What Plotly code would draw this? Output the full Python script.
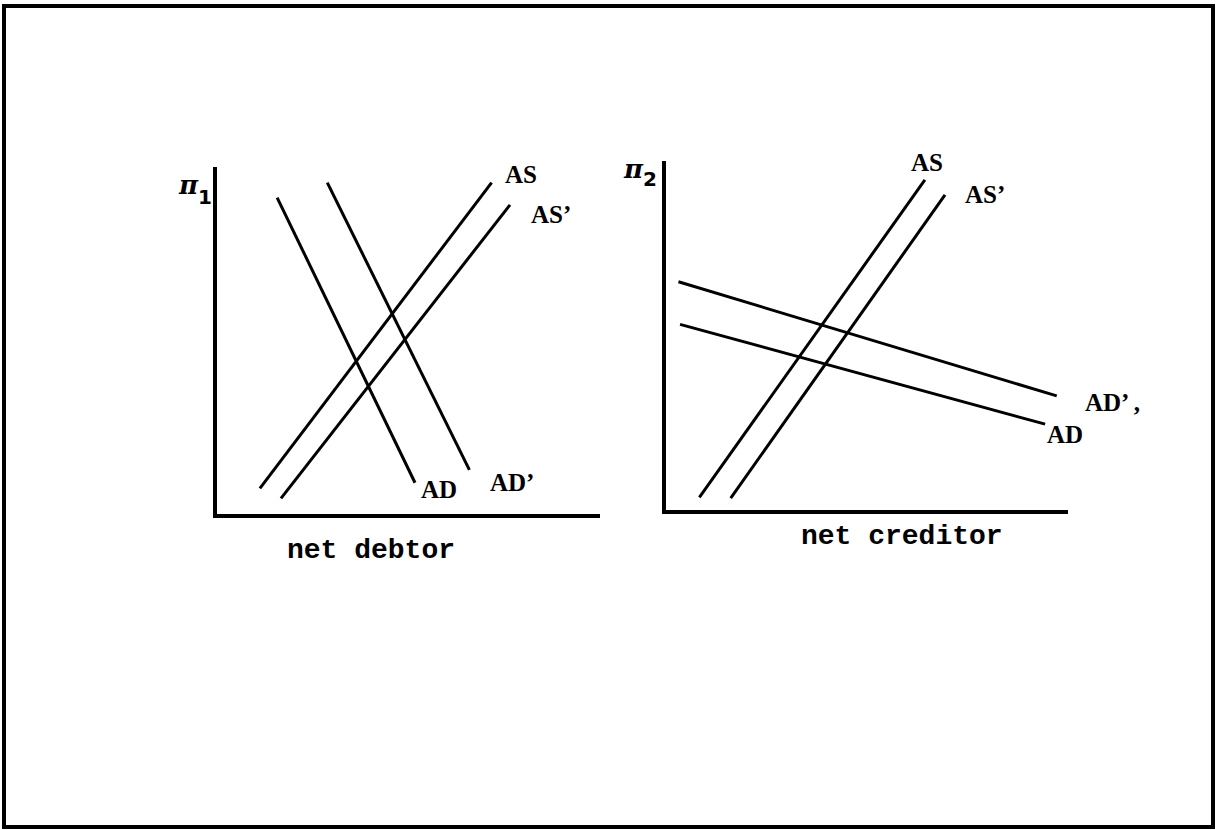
import plotly.graph_objects as go

W, H = 1217, 830

# ---- data (arbitrary units, 0-10 on each axis) ----
left_AD_x = [1.57, 5.17]
left_AD_y = [9.12, 0.90]
left_ADp_x = [2.88, 6.59]
left_ADp_y = [9.55, 1.27]
left_AS_x = [1.12, 7.17]
left_AS_y = [0.74, 9.55]
left_ASp_x = [1.67, 7.65]
left_ASp_y = [0.45, 8.91]

right_AS_x = [0.83, 6.44]
right_AS_y = [0.36, 9.46]
right_ASp_x = [1.61, 6.94]
right_ASp_y = [0.34, 9.03]
right_ADp_x = [0.31, 9.72]
right_ADp_y = [6.54, 3.27]
right_AD_x = [0.35, 9.43]
right_AD_y = [5.32, 2.46]

left_labels = ["AS", "AS’", "AD", "AD’"]
left_label_x = [7.94, 8.72, 5.80, 7.70]
left_label_y = [9.77, 8.62, 0.72, 0.92]
right_labels = ["AS", "AS’", "AD’ ,", "AD"]
right_label_x = [6.49, 7.94, 11.1, 9.93]
right_label_y = [9.97, 9.03, 3.09, 2.15]

# ---- layout geometry (pixels) ----
L_X0, L_X1, L_Y0, L_Y1 = 217, 600, 514, 167
R_X0, R_X1, R_Y0, R_Y1 = 666, 1068, 510, 161


def px(x):
    return x / W


def py(y):
    return 1 - y / H


def data_to_paper(x, y, X0, X1, Y0, Y1):
    return px(X0 + (X1 - X0) * x / 10.0), py(Y0 + (Y1 - Y0) * y / 10.0)


fig = go.Figure()
line_style = dict(color="black", width=3)

for xs, ys in [(left_AD_x, left_AD_y), (left_ADp_x, left_ADp_y),
               (left_AS_x, left_AS_y), (left_ASp_x, left_ASp_y)]:
    fig.add_trace(go.Scatter(x=xs, y=ys, mode="lines", line=line_style,
                             xaxis="x", yaxis="y", showlegend=False, hoverinfo="skip"))
for xs, ys in [(right_AS_x, right_AS_y), (right_ASp_x, right_ASp_y),
               (right_ADp_x, right_ADp_y), (right_AD_x, right_AD_y)]:
    fig.add_trace(go.Scatter(x=xs, y=ys, mode="lines", line=line_style,
                             xaxis="x2", yaxis="y2", showlegend=False, hoverinfo="skip"))

label_font = dict(family="Liberation Serif", size=25, color="black")
annotations = []
for t, x, y in zip(left_labels, left_label_x, left_label_y):
    ax, ay = data_to_paper(x, y, L_X0, L_X1, L_Y0, L_Y1)
    annotations.append(dict(text="<b>%s</b>" % t, x=ax, y=ay, xref="paper", yref="paper",
                            xanchor="center", yanchor="middle",
                            showarrow=False, font=label_font))
for t, x, y in zip(right_labels, right_label_x, right_label_y):
    ax, ay = data_to_paper(x, y, R_X0, R_X1, R_Y0, R_Y1)
    annotations.append(dict(text="<b>%s</b>" % t, x=ax, y=ay, xref="paper", yref="paper",
                            xanchor="center", yanchor="middle",
                            showarrow=False, font=label_font))

# axis symbols
pi_font = dict(family="DejaVu Serif", size=26, color="black")
sub_font = dict(family="DejaVu Sans", size=20, color="black")
for text, x, y, f in [("<b><i>π</i></b>", 188, 185, pi_font), ("<b>1</b>", 205, 197, sub_font),
                      ("<b><i>π</i></b>", 633, 169, pi_font), ("<b>2</b>", 650, 179, sub_font)]:
    annotations.append(dict(text=text, x=px(x), y=py(y), xref="paper", yref="paper",
                            xanchor="center", yanchor="middle", showarrow=False, font=f))

title_font = dict(family="Liberation Mono", size=28, color="black")
annotations.append(dict(text="<b>net debtor</b>", x=px(371), y=py(550), xref="paper", yref="paper",
                        xanchor="center", yanchor="middle", showarrow=False, font=title_font))
annotations.append(dict(text="<b>net creditor</b>", x=px(902), y=py(536), xref="paper", yref="paper",
                        xanchor="center", yanchor="middle", showarrow=False, font=title_font))

axis_common = dict(range=[0, 10], showgrid=False, zeroline=False, showticklabels=False,
                   ticks="", showline=True, linecolor="black", linewidth=4, fixedrange=True)

fig.update_layout(
    width=W, height=H,
    margin=dict(l=0, r=0, t=0, b=0),
    paper_bgcolor="white", plot_bgcolor="white",
    xaxis=dict(domain=[px(L_X0), px(L_X1)], anchor="y", **axis_common),
    yaxis=dict(domain=[py(L_Y0), py(L_Y1)], anchor="x", **axis_common),
    xaxis2=dict(domain=[px(R_X0), px(R_X1)], anchor="y2", **axis_common),
    yaxis2=dict(domain=[py(R_Y0), py(R_Y1)], anchor="x2", **axis_common),
    annotations=annotations,
    shapes=[dict(type="rect", xref="paper", yref="paper",
                 x0=px(4), x1=px(1213), y0=py(827), y1=py(6),
                 line=dict(color="black", width=4))],
)

fig.write_html("out.html", config={"displayModeBar": False},
               post_script="document.body.style.margin='0';document.body.style.overflow='hidden';")
